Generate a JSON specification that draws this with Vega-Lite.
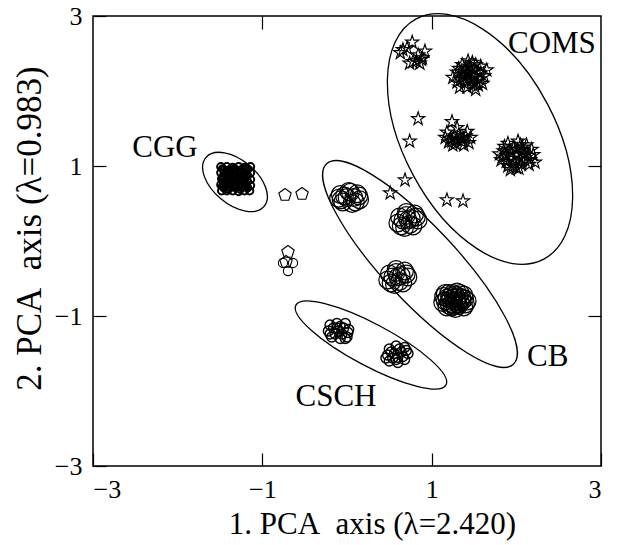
{
  "$schema": "https://vega.github.io/schema/vega-lite/v6.json",
  "width": 508,
  "height": 450,
  "autosize": {"type": "none"},
  "padding": {"left": 93, "top": 16, "right": 20, "bottom": 79},
  "background": "white",
  "config": {
    "font": "Liberation Serif",
    "view": {"stroke": "black", "strokeWidth": 1.5},
    "axis": {
      "grid": false,
      "domain": false,
      "tickColor": "black",
      "tickWidth": 1.2,
      "labelColor": "black",
      "titleColor": "black",
      "labelFontSize": 26,
      "titleFontSize": 31,
      "titleFontWeight": "normal",
      "labelFont": "Liberation Serif",
      "titleFont": "Liberation Serif"
    }
  },
  "datasets": {
    "ell": [
      {"name": "CGG", "x": -1.323, "y": 0.787},
      {"name": "COMS", "x": 1.571, "y": 1.36},
      {"name": "CB", "x": 0.862, "y": -0.307},
      {"name": "CSCH", "x": 0.283, "y": -1.387}
    ],
    "lab": [
      {"label": "COMS", "x": 2.42, "y": 2.63},
      {"label": "CGG", "x": -2.15, "y": 1.24},
      {"label": "CB", "x": 2.37, "y": -1.55},
      {"label": "CSCH", "x": -0.13, "y": -2.08}
    ],
    "pts": [
      {"g": "COMS", "x": 0.77, "y": 2.65}, {"g": "COMS", "x": 0.66, "y": 2.55}, {"g": "COMS", "x": 0.63, "y": 2.51}, {"g": "COMS", "x": 0.78, "y": 2.39}, {"g": "COMS", "x": 0.89, "y": 2.44},
      {"g": "COMS", "x": 0.84, "y": 2.48}, {"g": "COMS", "x": 0.74, "y": 2.37}, {"g": "COMS", "x": 0.86, "y": 2.37}, {"g": "COMS", "x": 0.71, "y": 2.57}, {"g": "COMS", "x": 0.92, "y": 2.53},
      {"g": "COMS", "x": 0.88, "y": 2.42}, {"g": "COMS", "x": 0.82, "y": 2.40},
      {"g": "COMS", "x": 1.45, "y": 2.21}, {"g": "COMS", "x": 1.30, "y": 2.25}, {"g": "COMS", "x": 1.36, "y": 2.35}, {"g": "COMS", "x": 1.48, "y": 2.38}, {"g": "COMS", "x": 1.58, "y": 2.33},
      {"g": "COMS", "x": 1.62, "y": 2.20}, {"g": "COMS", "x": 1.55, "y": 2.08}, {"g": "COMS", "x": 1.42, "y": 2.05}, {"g": "COMS", "x": 1.30, "y": 2.12}, {"g": "COMS", "x": 1.38, "y": 2.18},
      {"g": "COMS", "x": 1.50, "y": 2.28}, {"g": "COMS", "x": 1.40, "y": 2.30}, {"g": "COMS", "x": 1.55, "y": 2.25}, {"g": "COMS", "x": 1.47, "y": 2.14}, {"g": "COMS", "x": 1.33, "y": 2.05},
      {"g": "COMS", "x": 1.60, "y": 2.10}, {"g": "COMS", "x": 1.25, "y": 2.18}, {"g": "COMS", "x": 1.52, "y": 2.02}, {"g": "COMS", "x": 1.43, "y": 2.40}, {"g": "COMS", "x": 1.65, "y": 2.28},
      {"g": "COMS", "x": 1.35, "y": 2.26}, {"g": "COMS", "x": 1.57, "y": 2.16}, {"g": "COMS", "x": 1.46, "y": 2.31}, {"g": "COMS", "x": 1.39, "y": 2.10}, {"g": "COMS", "x": 1.50, "y": 2.20},
      {"g": "COMS", "x": 1.42, "y": 2.24}, {"g": "COMS", "x": 1.53, "y": 2.12}, {"g": "COMS", "x": 1.34, "y": 2.15}, {"g": "COMS", "x": 1.44, "y": 2.33}, {"g": "COMS", "x": 1.58, "y": 2.24},
      {"g": "COMS", "x": 1.37, "y": 2.22}, {"g": "COMS", "x": 1.49, "y": 2.08}, {"g": "COMS", "x": 1.52, "y": 2.35}, {"g": "COMS", "x": 1.41, "y": 2.16}, {"g": "COMS", "x": 1.32, "y": 2.30},
      {"g": "COMS", "x": 1.24, "y": 1.59}, {"g": "COMS", "x": 1.30, "y": 1.51}, {"g": "COMS", "x": 1.18, "y": 1.45}, {"g": "COMS", "x": 1.22, "y": 1.36}, {"g": "COMS", "x": 1.28, "y": 1.30},
      {"g": "COMS", "x": 1.35, "y": 1.33}, {"g": "COMS", "x": 1.40, "y": 1.40}, {"g": "COMS", "x": 1.44, "y": 1.31}, {"g": "COMS", "x": 1.32, "y": 1.42}, {"g": "COMS", "x": 1.25, "y": 1.28},
      {"g": "COMS", "x": 1.38, "y": 1.28}, {"g": "COMS", "x": 1.20, "y": 1.32}, {"g": "COMS", "x": 1.46, "y": 1.38}, {"g": "COMS", "x": 1.34, "y": 1.37}, {"g": "COMS", "x": 1.27, "y": 1.40},
      {"g": "COMS", "x": 1.42, "y": 1.46}, {"g": "COMS", "x": 1.16, "y": 1.38}, {"g": "COMS", "x": 1.30, "y": 1.35}, {"g": "COMS", "x": 1.37, "y": 1.36}, {"g": "COMS", "x": 1.24, "y": 1.33},
      {"g": "COMS", "x": 2.00, "y": 1.15}, {"g": "COMS", "x": 1.85, "y": 1.20}, {"g": "COMS", "x": 1.90, "y": 1.30}, {"g": "COMS", "x": 2.02, "y": 1.33}, {"g": "COMS", "x": 2.12, "y": 1.28},
      {"g": "COMS", "x": 2.20, "y": 1.15}, {"g": "COMS", "x": 2.15, "y": 1.02}, {"g": "COMS", "x": 2.03, "y": 0.97}, {"g": "COMS", "x": 1.90, "y": 1.00}, {"g": "COMS", "x": 1.82, "y": 1.08},
      {"g": "COMS", "x": 1.95, "y": 1.10}, {"g": "COMS", "x": 2.08, "y": 1.20}, {"g": "COMS", "x": 1.97, "y": 1.24}, {"g": "COMS", "x": 2.10, "y": 1.08}, {"g": "COMS", "x": 1.88, "y": 1.14},
      {"g": "COMS", "x": 2.18, "y": 1.22}, {"g": "COMS", "x": 1.93, "y": 0.95}, {"g": "COMS", "x": 2.06, "y": 1.02}, {"g": "COMS", "x": 1.80, "y": 1.16}, {"g": "COMS", "x": 2.22, "y": 1.05},
      {"g": "COMS", "x": 1.98, "y": 1.05}, {"g": "COMS", "x": 2.05, "y": 1.28}, {"g": "COMS", "x": 1.92, "y": 1.22}, {"g": "COMS", "x": 2.14, "y": 1.14}, {"g": "COMS", "x": 2.00, "y": 0.98},
      {"g": "COMS", "x": 1.86, "y": 1.26}, {"g": "COMS", "x": 2.04, "y": 1.10}, {"g": "COMS", "x": 1.94, "y": 1.17}, {"g": "COMS", "x": 2.10, "y": 1.16}, {"g": "COMS", "x": 1.88, "y": 1.06},
      {"g": "COMS", "x": 2.01, "y": 1.22}, {"g": "COMS", "x": 2.16, "y": 1.08}, {"g": "COMS", "x": 1.96, "y": 1.00}, {"g": "COMS", "x": 2.07, "y": 1.25}, {"g": "COMS", "x": 1.84, "y": 1.12},
      {"g": "COMS", "x": 0.84, "y": 1.63}, {"g": "COMS", "x": 0.74, "y": 1.33}, {"g": "COMS", "x": 0.685, "y": 0.813}, {"g": "COMS", "x": 0.51, "y": 0.64}, {"g": "COMS", "x": 1.18, "y": 0.547},
      {"g": "COMS", "x": 1.37, "y": 0.533},
      {"g": "CB", "x": -0.08, "y": 0.62}, {"g": "CB", "x": 0.02, "y": 0.66}, {"g": "CB", "x": 0.12, "y": 0.63}, {"g": "CB", "x": 0.15, "y": 0.55}, {"g": "CB", "x": 0.06, "y": 0.50},
      {"g": "CB", "x": -0.05, "y": 0.52}, {"g": "CB", "x": -0.10, "y": 0.57}, {"g": "CB", "x": 0.00, "y": 0.58}, {"g": "CB", "x": 0.08, "y": 0.58}, {"g": "CB", "x": 0.04, "y": 0.65},
      {"g": "CB", "x": -0.03, "y": 0.60}, {"g": "CB", "x": 0.10, "y": 0.52}, {"g": "CB", "x": 0.14, "y": 0.60}, {"g": "CB", "x": -0.07, "y": 0.55},
      {"g": "CB", "x": 0.62, "y": 0.32}, {"g": "CB", "x": 0.70, "y": 0.38}, {"g": "CB", "x": 0.80, "y": 0.36}, {"g": "CB", "x": 0.84, "y": 0.28}, {"g": "CB", "x": 0.78, "y": 0.20},
      {"g": "CB", "x": 0.68, "y": 0.18}, {"g": "CB", "x": 0.60, "y": 0.24}, {"g": "CB", "x": 0.72, "y": 0.28}, {"g": "CB", "x": 0.76, "y": 0.30}, {"g": "CB", "x": 0.66, "y": 0.28},
      {"g": "CB", "x": 0.74, "y": 0.22}, {"g": "CB", "x": 0.82, "y": 0.32}, {"g": "CB", "x": 0.70, "y": 0.34}, {"g": "CB", "x": 0.64, "y": 0.20},
      {"g": "CB", "x": 0.50, "y": -0.44}, {"g": "CB", "x": 0.58, "y": -0.38}, {"g": "CB", "x": 0.68, "y": -0.40}, {"g": "CB", "x": 0.72, "y": -0.48}, {"g": "CB", "x": 0.66, "y": -0.56},
      {"g": "CB", "x": 0.56, "y": -0.58}, {"g": "CB", "x": 0.48, "y": -0.52}, {"g": "CB", "x": 0.60, "y": -0.48}, {"g": "CB", "x": 0.64, "y": -0.46}, {"g": "CB", "x": 0.54, "y": -0.48},
      {"g": "CB", "x": 0.62, "y": -0.54}, {"g": "CB", "x": 0.70, "y": -0.44}, {"g": "CB", "x": 0.52, "y": -0.56}, {"g": "CB", "x": 0.58, "y": -0.42},
      {"g": "CB", "x": 1.14, "y": -0.74}, {"g": "CB", "x": 1.20, "y": -0.70}, {"g": "CB", "x": 1.30, "y": -0.68}, {"g": "CB", "x": 1.38, "y": -0.72}, {"g": "CB", "x": 1.42, "y": -0.80},
      {"g": "CB", "x": 1.38, "y": -0.88}, {"g": "CB", "x": 1.28, "y": -0.90}, {"g": "CB", "x": 1.18, "y": -0.88}, {"g": "CB", "x": 1.13, "y": -0.82}, {"g": "CB", "x": 1.22, "y": -0.78},
      {"g": "CB", "x": 1.30, "y": -0.76}, {"g": "CB", "x": 1.34, "y": -0.82}, {"g": "CB", "x": 1.24, "y": -0.84}, {"g": "CB", "x": 1.28, "y": -0.72}, {"g": "CB", "x": 1.18, "y": -0.76},
      {"g": "CB", "x": 1.36, "y": -0.76}, {"g": "CB", "x": 1.26, "y": -0.80}, {"g": "CB", "x": 1.32, "y": -0.86}, {"g": "CB", "x": 1.20, "y": -0.82}, {"g": "CB", "x": 1.40, "y": -0.84},
      {"g": "CB", "x": 1.16, "y": -0.70}, {"g": "CB", "x": 1.34, "y": -0.70}, {"g": "CB", "x": 1.24, "y": -0.88}, {"g": "CB", "x": 1.30, "y": -0.80},
      {"g": "CB", "x": 1.22, "y": -0.74}, {"g": "CB", "x": 1.36, "y": -0.80}, {"g": "CB", "x": 1.26, "y": -0.76}, {"g": "CB", "x": 1.16, "y": -0.80}, {"g": "CB", "x": 1.32, "y": -0.74},
      {"g": "CB", "x": 1.27, "y": -0.86}, {"g": "CB", "x": 1.21, "y": -0.86}, {"g": "CB", "x": 1.39, "y": -0.77}, {"g": "CB", "x": 1.25, "y": -0.70}, {"g": "CB", "x": 1.31, "y": -0.84},
      {"g": "CSCH", "x": -0.20, "y": -1.12}, {"g": "CSCH", "x": -0.12, "y": -1.10}, {"g": "CSCH", "x": -0.02, "y": -1.10}, {"g": "CSCH", "x": 0.02, "y": -1.18}, {"g": "CSCH", "x": 0.00, "y": -1.28},
      {"g": "CSCH", "x": -0.08, "y": -1.30}, {"g": "CSCH", "x": -0.18, "y": -1.28}, {"g": "CSCH", "x": -0.22, "y": -1.20}, {"g": "CSCH", "x": -0.10, "y": -1.20}, {"g": "CSCH", "x": -0.04, "y": -1.16},
      {"g": "CSCH", "x": -0.14, "y": -1.24}, {"g": "CSCH", "x": -0.06, "y": -1.24}, {"g": "CSCH", "x": -0.16, "y": -1.16}, {"g": "CSCH", "x": 0.01, "y": -1.22}, {"g": "CSCH", "x": -0.12, "y": -1.16},
      {"g": "CSCH", "x": -0.08, "y": -1.14}, {"g": "CSCH", "x": -0.20, "y": -1.24}, {"g": "CSCH", "x": -0.02, "y": -1.30},
      {"g": "CSCH", "x": 0.50, "y": -1.44}, {"g": "CSCH", "x": 0.58, "y": -1.40}, {"g": "CSCH", "x": 0.68, "y": -1.42}, {"g": "CSCH", "x": 0.72, "y": -1.50}, {"g": "CSCH", "x": 0.68, "y": -1.58},
      {"g": "CSCH", "x": 0.60, "y": -1.62}, {"g": "CSCH", "x": 0.50, "y": -1.60}, {"g": "CSCH", "x": 0.48, "y": -1.52}, {"g": "CSCH", "x": 0.56, "y": -1.50}, {"g": "CSCH", "x": 0.64, "y": -1.48},
      {"g": "CSCH", "x": 0.60, "y": -1.55}, {"g": "CSCH", "x": 0.54, "y": -1.56}, {"g": "CSCH", "x": 0.66, "y": -1.54}, {"g": "CSCH", "x": 0.62, "y": -1.44}, {"g": "CSCH", "x": 0.52, "y": -1.48},
      {"g": "CSCH", "x": 0.70, "y": -1.46}, {"g": "CSCH", "x": 0.58, "y": -1.58}, {"g": "CSCH", "x": 0.46, "y": -1.56},
      {"g": "CGG", "x": -1.49, "y": 0.99}, {"g": "CGG", "x": -1.42, "y": 0.99}, {"g": "CGG", "x": -1.35, "y": 0.98}, {"g": "CGG", "x": -1.28, "y": 0.99}, {"g": "CGG", "x": -1.21, "y": 0.98}, {"g": "CGG", "x": -1.14, "y": 0.99},
      {"g": "CGG", "x": -1.49, "y": 0.91}, {"g": "CGG", "x": -1.42, "y": 0.90}, {"g": "CGG", "x": -1.35, "y": 0.91}, {"g": "CGG", "x": -1.28, "y": 0.91}, {"g": "CGG", "x": -1.21, "y": 0.90}, {"g": "CGG", "x": -1.14, "y": 0.91},
      {"g": "CGG", "x": -1.48, "y": 0.83}, {"g": "CGG", "x": -1.42, "y": 0.83}, {"g": "CGG", "x": -1.35, "y": 0.82}, {"g": "CGG", "x": -1.28, "y": 0.83}, {"g": "CGG", "x": -1.21, "y": 0.83}, {"g": "CGG", "x": -1.14, "y": 0.82},
      {"g": "CGG", "x": -1.49, "y": 0.75}, {"g": "CGG", "x": -1.42, "y": 0.75}, {"g": "CGG", "x": -1.35, "y": 0.74}, {"g": "CGG", "x": -1.28, "y": 0.75}, {"g": "CGG", "x": -1.21, "y": 0.75}, {"g": "CGG", "x": -1.14, "y": 0.74},
      {"g": "CGG", "x": -1.48, "y": 0.67}, {"g": "CGG", "x": -1.42, "y": 0.67}, {"g": "CGG", "x": -1.35, "y": 0.67}, {"g": "CGG", "x": -1.28, "y": 0.66}, {"g": "CGG", "x": -1.21, "y": 0.67}, {"g": "CGG", "x": -1.15, "y": 0.67},
      {"g": "CGG", "x": -1.455, "y": 0.95}, {"g": "CGG", "x": -1.385, "y": 0.95}, {"g": "CGG", "x": -1.315, "y": 0.95}, {"g": "CGG", "x": -1.245, "y": 0.95}, {"g": "CGG", "x": -1.175, "y": 0.95},
      {"g": "CGG", "x": -1.455, "y": 0.87}, {"g": "CGG", "x": -1.385, "y": 0.87}, {"g": "CGG", "x": -1.315, "y": 0.87}, {"g": "CGG", "x": -1.245, "y": 0.87}, {"g": "CGG", "x": -1.175, "y": 0.87},
      {"g": "CGG", "x": -1.455, "y": 0.79}, {"g": "CGG", "x": -1.385, "y": 0.79}, {"g": "CGG", "x": -1.315, "y": 0.79}, {"g": "CGG", "x": -1.245, "y": 0.79}, {"g": "CGG", "x": -1.175, "y": 0.79},
      {"g": "CGG", "x": -1.455, "y": 0.71}, {"g": "CGG", "x": -1.385, "y": 0.71}, {"g": "CGG", "x": -1.315, "y": 0.71}, {"g": "CGG", "x": -1.245, "y": 0.71}, {"g": "CGG", "x": -1.175, "y": 0.71},
      {"g": "CGG", "x": -1.47, "y": 0.96}, {"g": "CGG", "x": -1.40, "y": 0.93}, {"g": "CGG", "x": -1.33, "y": 0.96}, {"g": "CGG", "x": -1.26, "y": 0.93}, {"g": "CGG", "x": -1.19, "y": 0.96},
      {"g": "CGG", "x": -1.47, "y": 0.85}, {"g": "CGG", "x": -1.40, "y": 0.81}, {"g": "CGG", "x": -1.33, "y": 0.85}, {"g": "CGG", "x": -1.26, "y": 0.81}, {"g": "CGG", "x": -1.19, "y": 0.85},
      {"g": "CGG", "x": -1.47, "y": 0.73}, {"g": "CGG", "x": -1.40, "y": 0.69}, {"g": "CGG", "x": -1.33, "y": 0.73}, {"g": "CGG", "x": -1.26, "y": 0.69}, {"g": "CGG", "x": -1.19, "y": 0.73},
      {"g": "PENT", "x": -0.732, "y": 0.613}, {"g": "PENT", "x": -0.531, "y": 0.627}, {"g": "PENT", "x": -0.697, "y": -0.147}, {"g": "PENT", "x": -0.72, "y": -0.28},
      {"g": "CIRC", "x": -0.638, "y": -0.293}, {"g": "CIRC", "x": -0.697, "y": -0.40}, {"g": "CIRC", "x": -0.756, "y": -0.293}
    ]
  },
  "layer": [
    {
      "data": {"name": "ell"},
      "transform": [{"filter": "datum.name === 'CGG'"}],
      "mark": {"type": "point", "shape": "M-38,0A38,22,0,1,0,38,0A38,22,0,1,0,-38,0Z", "size": 4, "angle": 40, "filled": false, "stroke": "black", "strokeWidth": 1.3, "opacity": 1},
      "encoding": {
        "x": {"field": "x", "type": "quantitative", "scale": {"domain": [-3, 3], "nice": false, "zero": false},
          "axis": {"orient": "bottom", "values": [-3, -1, 1, 3], "tickSize": -13, "labelPadding": 23, "labelExpr": "replace(datum.label, '-', '−')",
            "title": "1. PCA\u00a0 axis (λ=2.420)", "titleX": 279, "titleY": 58, "titleBaseline": "middle", "titleAlign": "center"}},
        "y": {"field": "y", "type": "quantitative", "scale": {"domain": [-3, 3], "nice": false, "zero": false},
          "axis": {"orient": "left", "values": [-3, -1, 1, 3], "tickSize": -13, "labelPadding": 24, "labelExpr": "replace(datum.label, '-', '−')",
            "title": "2. PCA\u00a0 axis (λ=0.983)", "titleFontSize": 35, "titleX": -64, "titleY": 212, "titleAngle": 270, "titleBaseline": "middle", "titleAlign": "center"}}
      }
    },
    {
      "data": {"name": "ell"},
      "transform": [{"filter": "datum.name === 'COMS'"}],
      "mark": {"type": "point", "shape": "M-136,0A136,76,0,1,0,136,0A136,76,0,1,0,-136,0Z", "size": 4, "angle": 62, "filled": false, "stroke": "black", "strokeWidth": 1.3, "opacity": 1},
      "encoding": {
        "x": {"field": "x", "type": "quantitative", "axis": {"orient": "top", "values": [-1, 1], "tickSize": -13, "labels": false, "title": null}},
        "y": {"field": "y", "type": "quantitative", "axis": {"orient": "right", "values": [-1, 1], "tickSize": -13, "labels": false, "title": null}}
      }
    },
    {
      "data": {"name": "ell"},
      "transform": [{"filter": "datum.name === 'CB'"}],
      "mark": {"type": "point", "shape": "M-137,0A137,37,0,1,0,137,0A137,37,0,1,0,-137,0Z", "size": 4, "angle": 47, "filled": false, "stroke": "black", "strokeWidth": 1.3, "opacity": 1},
      "encoding": {
        "x": {"field": "x", "type": "quantitative", "axis": null},
        "y": {"field": "y", "type": "quantitative", "axis": null}
      }
    },
    {
      "data": {"name": "ell"},
      "transform": [{"filter": "datum.name === 'CSCH'"}],
      "mark": {"type": "point", "shape": "M-85,0A85,21,0,1,0,85,0A85,21,0,1,0,-85,0Z", "size": 4, "angle": 28, "filled": false, "stroke": "black", "strokeWidth": 1.3, "opacity": 1},
      "encoding": {
        "x": {"field": "x", "type": "quantitative", "axis": null},
        "y": {"field": "y", "type": "quantitative", "axis": null}
      }
    },
    {
      "data": {"name": "pts"},
      "transform": [{"filter": "datum.g === 'COMS'"}],
      "mark": {"type": "point", "shape": "M0,-7L1.58,-2.18L6.66,-2.16L2.56,0.83L4.11,5.66L0,2.69L-4.11,5.66L-2.56,0.83L-6.66,-2.16L-1.58,-2.18Z", "size": 4, "filled": false, "stroke": "black", "strokeWidth": 1.15, "opacity": 1},
      "encoding": {
        "x": {"field": "x", "type": "quantitative", "axis": null},
        "y": {"field": "y", "type": "quantitative", "axis": null}
      }
    },
    {
      "data": {"name": "pts"},
      "transform": [{"filter": "datum.g === 'PENT'"}],
      "mark": {"type": "point", "shape": "M0,-6.5L6.18,-2.01L3.82,5.26L-3.82,5.26L-6.18,-2.01Z", "size": 4, "filled": false, "stroke": "black", "strokeWidth": 1.1, "opacity": 1},
      "encoding": {
        "x": {"field": "x", "type": "quantitative", "axis": null},
        "y": {"field": "y", "type": "quantitative", "axis": null}
      }
    },
    {
      "data": {"name": "pts"},
      "transform": [{"filter": "datum.g === 'CB'"}],
      "mark": {"type": "point", "shape": "circle", "size": 310, "filled": false, "stroke": "black", "strokeWidth": 1.2, "opacity": 1},
      "encoding": {
        "x": {"field": "x", "type": "quantitative", "axis": null},
        "y": {"field": "y", "type": "quantitative", "axis": null}
      }
    },
    {
      "data": {"name": "pts"},
      "transform": [{"filter": "datum.g === 'CSCH'"}],
      "mark": {"type": "point", "shape": "circle", "size": 100, "filled": false, "stroke": "black", "strokeWidth": 1.4, "opacity": 1},
      "encoding": {
        "x": {"field": "x", "type": "quantitative", "axis": null},
        "y": {"field": "y", "type": "quantitative", "axis": null}
      }
    },
    {
      "data": {"name": "pts"},
      "transform": [{"filter": "datum.g === 'CGG'"}],
      "mark": {"type": "point", "shape": "circle", "size": 55, "filled": false, "stroke": "black", "strokeWidth": 2, "opacity": 1},
      "encoding": {
        "x": {"field": "x", "type": "quantitative", "axis": null},
        "y": {"field": "y", "type": "quantitative", "axis": null}
      }
    },
    {
      "data": {"name": "pts"},
      "transform": [{"filter": "datum.g === 'CIRC'"}],
      "mark": {"type": "point", "shape": "circle", "size": 85, "filled": false, "stroke": "black", "strokeWidth": 1.1, "opacity": 1},
      "encoding": {
        "x": {"field": "x", "type": "quantitative", "axis": null},
        "y": {"field": "y", "type": "quantitative", "axis": null}
      }
    },
    {
      "data": {"name": "lab"},
      "mark": {"type": "text", "fontSize": 31, "font": "Liberation Serif", "color": "black", "align": "center", "baseline": "middle"},
      "encoding": {
        "x": {"field": "x", "type": "quantitative", "axis": null},
        "y": {"field": "y", "type": "quantitative", "axis": null},
        "text": {"field": "label"}
      }
    }
  ]
}
